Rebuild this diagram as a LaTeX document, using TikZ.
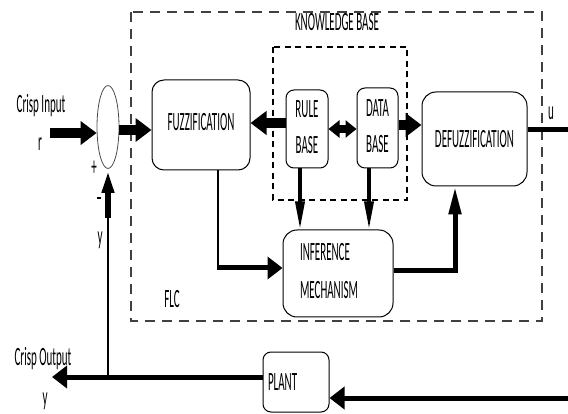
\documentclass[tikz,border=0pt]{standalone}
\usepackage{graphicx}
\usepackage{fontspec}
\setmainfont{Carlito}
\usepackage{tikz}
\usetikzlibrary{arrows.meta,shapes.geometric}

\newcommand{\tall}[1]{\scalebox{1}[2.4]{#1}}

\begin{document}
\begin{tikzpicture}[x=1pt,y=-1pt,
      font=\fontsize{11}{13}\selectfont,
      block/.style={draw,line width=1pt,rounded corners=10pt,inner sep=2pt},
      bigarr/.style={-{Triangle[length=16pt,width=23pt]},line width=10pt},
      medarr/.style={-{Triangle[length=15pt,width=22pt]},line width=5pt},
      slimarr/.style={-{Triangle[length=28pt,width=12pt]},line width=5pt},
      pinarr/.style={-{Triangle[length=28pt,width=9pt]},line width=3.5pt},
      dblarr/.style={{Triangle[length=11pt,width=17pt]}-{Triangle[length=11pt,width=17pt]},line width=8pt},
      thinline/.style={line width=1.6pt},
      fatline/.style={line width=5pt}]
    \useasboundingbox (0,0) rectangle (568,414);

    % dashed frames
    \draw[line width=1.1pt,black!75,dash pattern=on 10pt off 7pt] (131,12) rectangle (542,321);
    \draw[line width=1.1pt,dash pattern=on 6pt off 4.5pt] (273,47) rectangle (407,200);
    \node (kb) at (337,22) {\tall{KNOWLEDGE BASE}};
    \node (flc) at (172,299) {\tall{FLC}};

    % blocks
    \node[draw,black!70,line width=0.8pt,ellipse,minimum width=22pt,minimum height=83pt,inner sep=0pt] (sum) at (108,127) {};
    \node[block,minimum width=98pt,minimum height=90pt,rounded corners=12pt] (fuzz) at (201,125) {\tall{\raisebox{2.5pt}{FUZZIFICATION}}};
    \node[block,minimum width=42pt,minimum height=78pt,rounded corners=8pt] (rule) at (307,129)
      {\tall{\begin{tabular}{@{}c@{}}RULE\\[2pt]BASE\end{tabular}}};
    \node[block,minimum width=41pt,minimum height=80pt,rounded corners=8pt] (data) at (377.5,128)
      {\tall{\begin{tabular}{@{}c@{}}DATA\\[2pt]BASE\end{tabular}}};
    \node[block,minimum width=105pt,minimum height=94pt,rounded corners=14pt] (defuzz) at (474.5,139) {\tall{DEFUZZIFICATION}};
    \node[block,minimum width=110pt,minimum height=87pt,rounded corners=14pt,inner xsep=17pt,text width=76pt,align=left] (infer) at (338,273.5)
      {\tall{\begin{tabular}{@{}l@{}}INFERENCE\\[3pt]MECHANISM\end{tabular}}};
    \node[block,minimum width=66pt,minimum height=60pt,rounded corners=8pt,inner xsep=5pt,text width=56pt,align=left] (plant) at (296,382) {\tall{\raisebox{-3.5pt}{PLANT}}};

    % free ends and corners
    \coordinate (rin) at (50,133);
    \coordinate (uout) at (568,130);
    \coordinate (pin) at (568,398);
    \coordinate (yout) at (52,377);
    \coordinate (fb) at (108,377);
    \coordinate (fbk) at (108,218);
    \coordinate (fcorner) at (218,268);

    % connectors
    \draw[bigarr] (rin) -- (rin -| sum.west);
    \draw[bigarr] ([yshift=-3]sum.east) -- ([yshift=-3]sum.east -| fuzz.west);
    \draw[bigarr] ([yshift=6]rule.west) -- ([yshift=6]rule.west -| fuzz.east);
    \draw[dblarr] (rule.east) -- (rule.east -| data.west);
    \draw[bigarr] ([yshift=3]data.east) -- ([yshift=3]data.east -| defuzz.west);
    \draw[fatline] (defuzz.east |- uout) -- (uout);
    \draw[thinline] (fuzz.south -| fcorner) -- (fcorner);
    \draw[medarr] ([xshift=-1pt]fcorner) -- (fcorner -| infer.west);
    \draw[pinarr] ([xshift=-7]rule.south) -- ([xshift=-7]rule.south |- infer.north);
    \draw[pinarr] ([xshift=-8.5]data.south) -- ([xshift=-8.5]data.south |- infer.north);
    \draw[slimarr] ([yshift=3]infer.east) -| ([xshift=-19.5]defuzz.south);
    \draw[medarr] (pin) -- (pin -| plant.east);
    \draw[medarr] (plant.west |- yout) -- (yout);
    \draw[thinline] (fb) -- (fbk);
    \draw[slimarr,line width=6pt,-{Triangle[length=24pt,width=11pt]}] (fbk) -- (sum.south);

    % labels
    \node (inlbl) at (41,106) {\tall{Crisp Input}};
    \node (rlbl) at (40,144) {\tall{r}};
    \node (plus) at (94,168) {\tall{+}};
    \node[inner sep=0pt] (minus) at (99,198) {\tall{\rule{4.5pt}{1.2pt}}};
    \node (ylbl) at (100,240) {\tall{y}};
    \node (outlbl) at (43,359) {\tall{Crisp Output}};
    \node (ylbl2) at (45,401) {\tall{y}};
    \node (ulbl) at (551,113) {\tall{u}};
  \end{tikzpicture}
\end{document}
